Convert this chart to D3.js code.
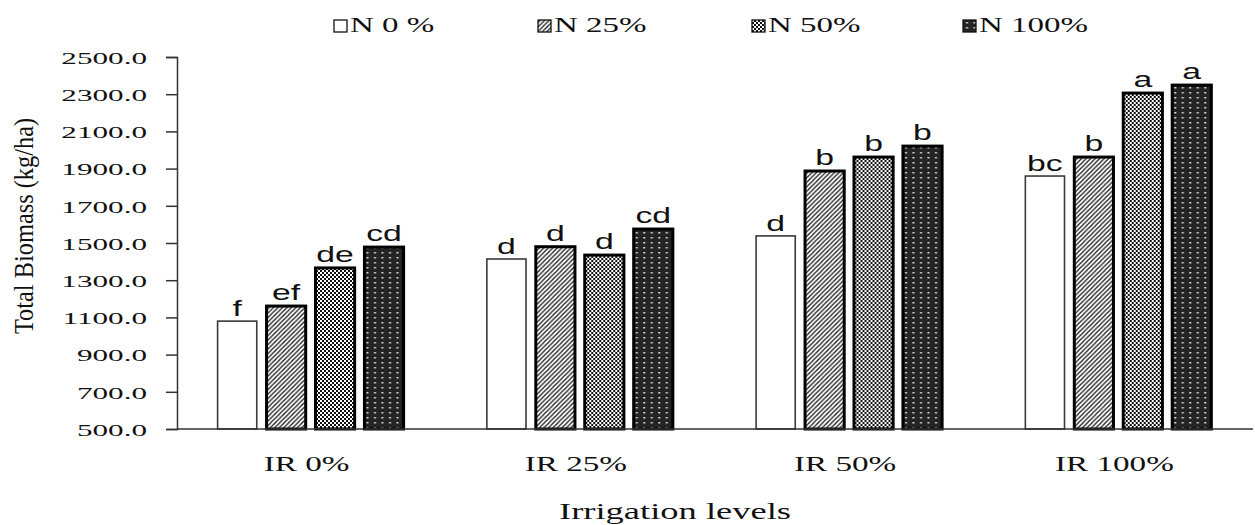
<!DOCTYPE html>
<html>
<head>
<meta charset="utf-8">
<script src="https://cdn.jsdelivr.net/npm/d3@7"></script>
<style>
  html, body { margin: 0; padding: 0; background: #fff; }
  svg { display: block; }
</style>
</head>
<body>
<svg id="chart" width="1255" height="525"></svg>
<script>
// Irrigation levels along the x axis
const categories = ["IR 0%", "IR 25%", "IR 50%", "IR 100%"];
// Nitrogen treatments (one bar per treatment in each group)
const seriesNames = ["N 0 %", "N 25%", "N 50%", "N 100%"];
// Total biomass (kg/ha), one array per nitrogen treatment, ordered by irrigation level
const n0 = [1080, 1414, 1538, 1860];
const n25 = [1161, 1480, 1887, 1962];
const n50 = [1366, 1435, 1962, 2306];
const n100 = [1478, 1575, 2021, 2349];
// Significance letters above each bar, same layout as the values
const n0Letters = ["f", "d", "d", "bc"];
const n25Letters = ["ef", "d", "b", "b"];
const n50Letters = ["de", "d", "b", "a"];
const n100Letters = ["cd", "cd", "b", "a"];
// y axis ticks
const yTicks = [500, 700, 900, 1100, 1300, 1500, 1700, 1900, 2100, 2300, 2500];

const seriesValues = [n0, n25, n50, n100];
const seriesLetters = [n0Letters, n25Letters, n50Letters, n100Letters];
const fills = ["#ffffff", "url(#hatch)", "url(#checker)", "url(#dots)"];

const svg = d3.select("#chart");
const serif = "'Liberation Serif', 'Times New Roman', serif";
const sans = "'Liberation Sans', Arial, sans-serif";

// widen or narrow text horizontally by factor k
function stretch(sel, k) {
  sel.each(function () {
    const w = this.getComputedTextLength();
    d3.select(this).attr("textLength", w * k).attr("lengthAdjust", "spacingAndGlyphs");
  });
}

// fill patterns
const defs = svg.append("defs");
const hatch = defs.append("pattern").attr("id", "hatch")
  .attr("patternUnits", "userSpaceOnUse").attr("width", 4.5).attr("height", 4.5);
hatch.append("rect").attr("width", 4.5).attr("height", 4.5).attr("fill", "#fff");
hatch.append("path").attr("d", "M-1,1 l2,-2 M0,4.5 l4.5,-4.5 M3.5,5.5 l2,-2")
  .attr("stroke", "#111").attr("stroke-width", 1.2);

const checker = defs.append("pattern").attr("id", "checker")
  .attr("patternUnits", "userSpaceOnUse").attr("width", 4).attr("height", 4);
checker.append("rect").attr("width", 4).attr("height", 4).attr("fill", "#111");
checker.append("rect").attr("x", 0).attr("y", 0).attr("width", 2).attr("height", 2).attr("fill", "#fff");
checker.append("rect").attr("x", 2).attr("y", 2).attr("width", 2).attr("height", 2).attr("fill", "#fff");

const dots = defs.append("pattern").attr("id", "dots")
  .attr("patternUnits", "userSpaceOnUse").attr("width", 7.5).attr("height", 5);
dots.append("rect").attr("width", 7.5).attr("height", 5).attr("fill", "#242424");
dots.append("rect").attr("x", 3).attr("y", 2).attr("width", 2).attr("height", 1.5).attr("fill", "#d8d8d8");

// scales
const x0 = d3.scaleBand().domain(categories).range([176, 1253]).paddingInner(0).paddingOuter(0);
const x1 = d3.scaleBand().domain(d3.range(seriesNames.length))
  .range([41.6, 227.6]).paddingInner(0.2).paddingOuter(0);
const y = d3.scaleLinear().domain([500, 2500]).range([429, 57]);

// y axis
const yAxis = svg.append("g").attr("transform", "translate(177,0)")
  .call(d3.axisLeft(y).tickValues(yTicks).tickFormat(d3.format(".1f")).tickSize(11).tickPadding(19));
yAxis.attr("font-size", null).attr("font-family", null);
yAxis.select(".domain").attr("stroke", "#333").attr("stroke-width", 1.5);
yAxis.selectAll(".tick line").attr("stroke", "#333").attr("stroke-width", 1.5);
yAxis.selectAll(".tick text")
  .style("font-family", serif).style("font-size", "17.5px")
  .attr("fill", "#111").attr("dy", "0.36em")
  .call(stretch, 1.78);

// bars
const groups = svg.append("g").selectAll("g").data(categories).join("g")
  .attr("transform", d => `translate(${x0(d)},0)`);

groups.each(function (cat, ci) {
  const g = d3.select(this);
  seriesNames.forEach((s, si) => {
    const v = seriesValues[si][ci];
    g.append("rect")
      .attr("x", x1(si))
      .attr("y", y(v))
      .attr("width", x1.bandwidth())
      .attr("height", y(500) - y(v))
      .attr("fill", fills[si])
      .attr("stroke", si === 0 ? "#3a3a3a" : "#000")
      .attr("stroke-width", si === 0 ? 1.6 : 3);
    g.append("text")
      .attr("x", x1(si) + x1.bandwidth() / 2)
      .attr("y", y(v) - (si === 0 ? 5 : 6))
      .attr("text-anchor", "middle")
      .style("font-family", sans).style("font-size", "22.5px")
      .attr("fill", "#111")
      .text(seriesLetters[si][ci])
      .call(stretch, 1.5);
  });
});

// x axis baseline
svg.append("line").attr("x1", 177).attr("x2", 1253).attr("y1", y(500)).attr("y2", y(500))
  .attr("stroke", "#333").attr("stroke-width", 1.5);

// category labels
svg.append("g").selectAll("text").data(categories).join("text")
  .attr("x", d => x0(d) + x0.bandwidth() / 2 - 4)
  .attr("y", 471)
  .attr("text-anchor", "middle")
  .style("font-family", serif).style("font-size", "21px").attr("fill", "#111")
  .text(d => d)
  .call(stretch, 1.58);

// axis titles
svg.append("text")
  .attr("x", 675).attr("y", 519)
  .attr("text-anchor", "middle")
  .style("font-family", serif).style("font-size", "24px").attr("fill", "#111")
  .text("Irrigation levels")
  .call(stretch, 1.52);

svg.append("text")
  .attr("transform", "translate(33,226) rotate(-90)")
  .attr("text-anchor", "middle")
  .style("font-family", serif).style("font-size", "28px").attr("fill", "#111")
  .text("Total Biomass (kg/ha)")
  .call(stretch, 0.87);

// legend
const legendX = [334, 538, 752, 963];
const legend = svg.append("g").selectAll("g").data(seriesNames).join("g")
  .attr("transform", (d, i) => `translate(${legendX[i]},0)`);
legend.append("rect")
  .attr("x", 0).attr("y", 20).attr("width", 13).attr("height", 12)
  .attr("fill", (d, i) => fills[i])
  .attr("stroke", "#111").attr("stroke-width", 1.3);
legend.append("text")
  .attr("x", 16).attr("y", 32)
  .style("font-family", serif).style("font-size", "22px").attr("fill", "#111")
  .text(d => d)
  .call(stretch, 1.5);
</script>
</body>
</html>
